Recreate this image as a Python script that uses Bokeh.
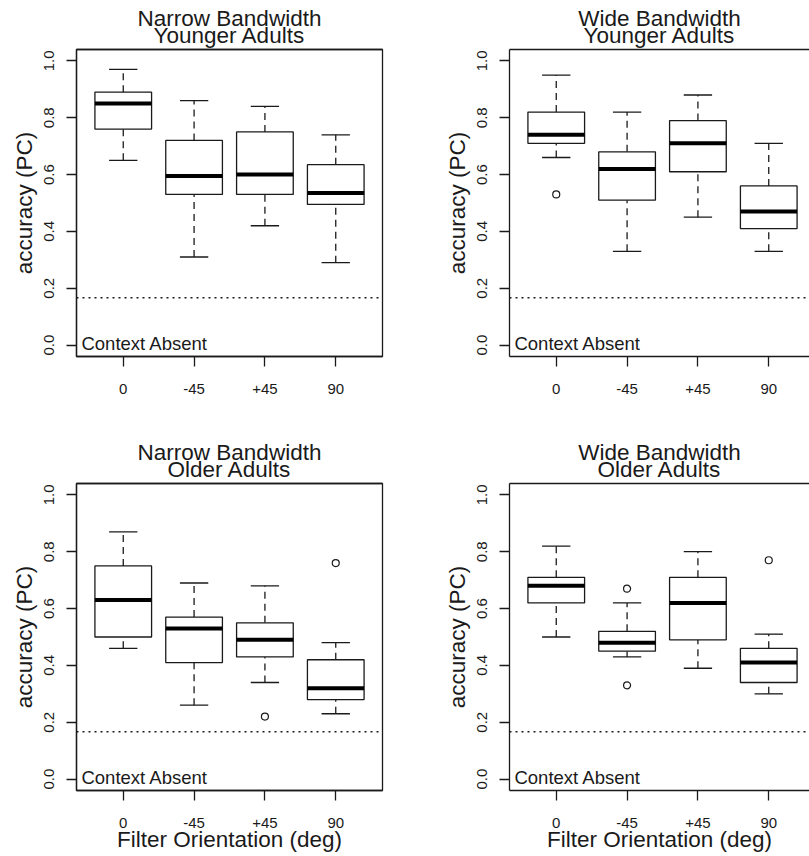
from bokeh.plotting import figure
from bokeh.layouts import column, row
from bokeh.models import (Range1d, FixedTicker, PrintfTickFormatter, Span, Label,
                          LinearAxis)
from bokeh.embed import file_html
from bokeh.resources import INLINE

# ---------------- data ----------------
categories = ["0", "-45", "+45", "90"]
positions = [1, 2, 3, 4]
CHANCE = 1 / 6
y_ticks = [0.0, 0.2, 0.4, 0.6, 0.8, 1.0]

# Narrow bandwidth, younger adults
ny_low = [0.65, 0.31, 0.42, 0.29]
ny_q1 = [0.76, 0.53, 0.53, 0.495]
ny_med = [0.85, 0.595, 0.60, 0.535]
ny_q3 = [0.89, 0.72, 0.75, 0.635]
ny_high = [0.97, 0.86, 0.84, 0.74]
ny_out_cat = []
ny_out_val = []

# Wide bandwidth, younger adults
wy_low = [0.66, 0.33, 0.45, 0.33]
wy_q1 = [0.71, 0.51, 0.61, 0.41]
wy_med = [0.74, 0.62, 0.71, 0.47]
wy_q3 = [0.82, 0.68, 0.79, 0.56]
wy_high = [0.95, 0.82, 0.88, 0.71]
wy_out_cat = ["0"]
wy_out_val = [0.53]

# Narrow bandwidth, older adults
no_low = [0.46, 0.26, 0.34, 0.23]
no_q1 = [0.50, 0.41, 0.43, 0.28]
no_med = [0.63, 0.53, 0.49, 0.32]
no_q3 = [0.75, 0.57, 0.55, 0.42]
no_high = [0.87, 0.69, 0.68, 0.48]
no_out_cat = ["+45", "90"]
no_out_val = [0.22, 0.76]

# Wide bandwidth, older adults
wo_low = [0.50, 0.43, 0.39, 0.30]
wo_q1 = [0.62, 0.45, 0.49, 0.34]
wo_med = [0.68, 0.48, 0.62, 0.41]
wo_q3 = [0.71, 0.52, 0.71, 0.46]
wo_high = [0.82, 0.62, 0.80, 0.51]
wo_out_cat = ["-45", "-45", "90"]
wo_out_val = [0.67, 0.33, 0.77]

titles = [("Narrow Bandwidth", "Younger Adults"), ("Wide Bandwidth", "Younger Adults"),
          ("Narrow Bandwidth", "Older Adults"), ("Wide Bandwidth", "Older Adults")]
y_label = "accuracy (PC)"
x_label = "Filter Orientation (deg)"
note = "Context Absent"

FONT = "Liberation Sans"
INK = "#1a1a1a"
pos_of = dict(zip(categories, positions))


def title_axis(text, line_color, standoff):
    ax = LinearAxis(ticker=FixedTicker(ticks=[]), major_tick_out=0, major_tick_in=0,
                    minor_tick_out=0, minor_tick_in=0,
                    major_label_text_font_size="0px",
                    axis_line_color=line_color, axis_line_width=1.3)
    ax.axis_label = text
    ax.axis_label_text_font = FONT
    ax.axis_label_text_font_size = "22.5px"
    ax.axis_label_text_font_style = "normal"
    ax.axis_label_text_color = INK
    ax.axis_label_standoff = standoff
    return ax


def panel(t1, t2, low, q1, med, q3, high, out_cat, out_val, left, bottom):
    width = 404 if left else 405
    bl = 76 if left else 105
    br = 22 if left else 0
    frame_w = width - bl - br
    px_per_unit = 306 / 4.32
    x_end = 0.34 + frame_w / px_per_unit
    bt = 55 if bottom else 49
    bb = 66 if bottom else 72
    p = figure(width=width, height=428, output_backend="svg", toolbar_location=None,
               x_range=Range1d(0.34, x_end), y_range=Range1d(-0.04, 1.04),
               min_border_left=bl, min_border_right=br,
               min_border_top=bt, min_border_bottom=bb,
               background_fill_color="white", border_fill_color="white")
    p.xgrid.visible = False
    p.ygrid.visible = False

    xa = p.below[0]
    xa.ticker = FixedTicker(ticks=positions)
    xa.major_label_overrides = {pp: c for pp, c in zip(positions, categories)}
    xa.major_tick_out = 10
    xa.major_tick_in = 0
    xa.minor_tick_out = 0
    xa.minor_tick_in = 0
    xa.major_tick_line_color = INK
    xa.major_tick_line_width = 1.3
    xa.axis_line_color = INK
    xa.axis_line_width = 1.3
    xa.major_label_text_font = FONT
    xa.major_label_text_font_size = "15px"
    xa.major_label_text_color = INK
    xa.major_label_standoff = 17
    if bottom:
        xa.axis_label = x_label
        xa.axis_label_text_font = FONT
        xa.axis_label_text_font_size = "22.5px"
        xa.axis_label_text_font_style = "normal"
        xa.axis_label_text_color = INK
        xa.axis_label_standoff = -4

    ya = p.left[0]
    ya.ticker = FixedTicker(ticks=y_ticks)
    ya.formatter = PrintfTickFormatter(format="%.1f")
    ya.major_label_orientation = "vertical"
    ya.major_tick_out = 10
    ya.major_tick_in = 0
    ya.minor_tick_out = 0
    ya.minor_tick_in = 0
    ya.major_tick_line_color = INK
    ya.major_tick_line_width = 1.3
    ya.axis_line_color = INK
    ya.axis_line_width = 1.3
    ya.major_label_text_font = FONT
    ya.major_label_text_font_size = "15px"
    ya.major_label_text_color = INK
    ya.major_label_standoff = 12
    ya.axis_label = y_label
    ya.axis_label_text_font = FONT
    ya.axis_label_text_font_size = "22.5px"
    ya.axis_label_text_font_style = "normal"
    ya.axis_label_text_color = INK
    ya.axis_label_standoff = 5

    if left:
        p.outline_line_color = INK
        p.outline_line_width = 1.3
    else:
        p.outline_line_color = None

    # two-line title drawn as labels of two bare top axes (each line centred);
    # the nearer axis also supplies the top edge of the box
    p.add_layout(title_axis(t2, INK, 2), "above")
    p.add_layout(title_axis(t1, None, -11), "above")

    # chance line
    p.add_layout(Span(location=CHANCE, dimension="width", line_color=INK,
                      line_width=1.3, line_dash="2 4"))

    lefts = [x - 0.4 for x in positions]
    rights = [x + 0.4 for x in positions]
    capl = [x - 0.2 for x in positions]
    capr = [x + 0.2 for x in positions]
    # whiskers
    p.segment(x0=positions, y0=q3, x1=positions, y1=high, line_color=INK,
              line_width=1.3, line_dash="7 5")
    p.segment(x0=positions, y0=low, x1=positions, y1=q1, line_color=INK,
              line_width=1.3, line_dash="7 5")
    p.segment(x0=capl, y0=high, x1=capr, y1=high, line_color=INK, line_width=1.3)
    p.segment(x0=capl, y0=low, x1=capr, y1=low, line_color=INK, line_width=1.3)
    # boxes
    p.quad(left=lefts, right=rights, bottom=q1, top=q3, fill_color="white",
           line_color=INK, line_width=1.3)
    p.segment(x0=lefts, y0=med, x1=rights, y1=med, line_color="black", line_width=4)
    # outliers
    if out_cat:
        p.scatter(x=[pos_of[c] for c in out_cat], y=out_val, marker="circle", size=7,
                  fill_color=None, line_color=INK, line_width=1.2)

    # note
    p.add_layout(Label(x=0.41, y=0, text=note, text_font=FONT, text_font_size="18.5px",
                       text_color=INK, text_baseline="alphabetic", y_offset=2))
    return p


p1 = panel(*titles[0], ny_low, ny_q1, ny_med, ny_q3, ny_high, ny_out_cat, ny_out_val, True, False)
p2 = panel(*titles[1], wy_low, wy_q1, wy_med, wy_q3, wy_high, wy_out_cat, wy_out_val, False, False)
p3 = panel(*titles[2], no_low, no_q1, no_med, no_q3, no_high, no_out_cat, no_out_val, True, True)
p4 = panel(*titles[3], wo_low, wo_q1, wo_med, wo_q3, wo_high, wo_out_cat, wo_out_val, False, True)

layout = column(row(p1, p2, spacing=0), row(p3, p4, spacing=0), spacing=0)
open("out.html", "w").write(file_html(layout, INLINE))
